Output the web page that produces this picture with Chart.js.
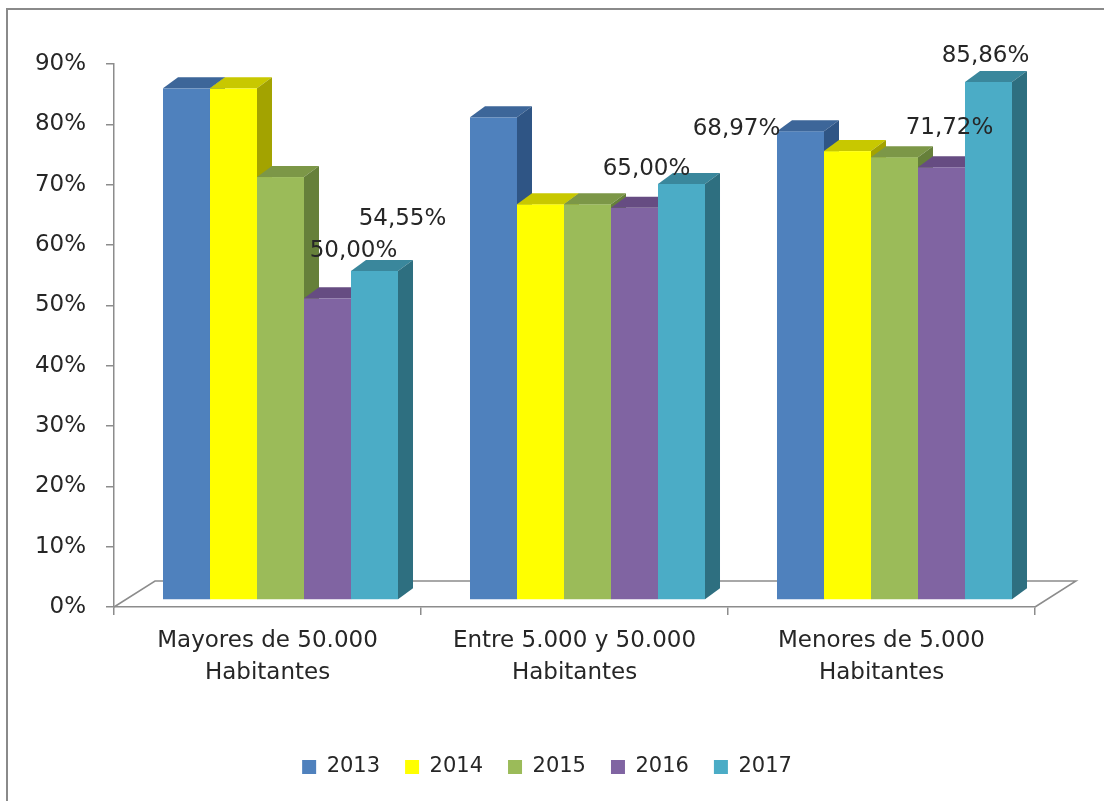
<!DOCTYPE html>
<html>
<head>
<meta charset="utf-8">
<script src="https://cdn.jsdelivr.net/npm/chart.js@4"></script>
<style>
  html, body { margin: 0; padding: 0; background: #fff; }
  #chart { display: block; }
</style>
</head>
<body>
<canvas id="chart" width="1104" height="801"></canvas>
<script>
// Data (percent)
const categories = [
  ['Mayores de 50.000', 'Habitantes'],
  ['Entre 5.000 y 50.000', 'Habitantes'],
  ['Menores de 5.000', 'Habitantes']
];
const years = ['2013', '2014', '2015', '2016', '2017'];
const values2013 = [84.8, 80.0, 77.7];
const values2014 = [84.8, 65.6, 74.4];
const values2015 = [70.1, 65.6, 73.4];
const values2016 = [50.00, 65.00, 71.72];
const values2017 = [54.55, 68.97, 85.86];
const yTicks = [0, 10, 20, 30, 40, 50, 60, 70, 80, 90];
// only these series carry value labels in the original
const labelledYears = ['2016', '2017'];

// Excel-like 3D face colours: front / top / side
const faceColors = {
  '2013': ['#4F81BD', '#3D6699', '#2F5585'],
  '2014': ['#FFFF00', '#C8C800', '#A3A300'],
  '2015': ['#9BBB59', '#7C9747', '#66803A'],
  '2016': ['#8064A2', '#664C82', '#54406C'],
  '2017': ['#4BACC6', '#3A879C', '#2E6F80']
};

const axisGrey = '#8c8c8c';
const textColor = '#262626';
const fontFamily = '"DejaVu Sans", Verdana, sans-serif';

const series = [values2013, values2014, values2015, values2016, values2017];

const fmtPct = v => v.toFixed(2).replace('.', ',') + '%';

// Draws the floor, the 3D columns, value labels and the frame lines
const bars3d = {
  id: 'bars3d',
  beforeDatasetsDraw(chart, args, opts) {
    const ctx = chart.ctx;
    const { left, right, bottom } = chart.chartArea;

    ctx.save();
    // floor outline (front edge is the x axis line)
    ctx.strokeStyle = axisGrey;
    ctx.lineWidth = 1.5;
    ctx.beginPath();
    ctx.moveTo(left, bottom);
    ctx.lineTo(left + opts.floorDx, bottom + opts.floorDy);
    ctx.lineTo(right + opts.floorDx, bottom + opts.floorDy);
    ctx.lineTo(right, bottom);
    ctx.stroke();

    // columns: category by category, left to right, so faces overlap correctly
    for (let i = 0; i < categories.length; i++) {
      chart.data.datasets.forEach((ds, d) => {
        if (!chart.isDatasetVisible(d)) return;
        const bar = chart.getDatasetMeta(d).data[i];
        const [front, top, side] = faceColors[ds.label];
        const x0 = bar.x - bar.width / 2 + opts.shiftX;
        const x1 = bar.x + bar.width / 2 + opts.shiftX;
        const yt = bar.y + opts.shiftY;
        const yb = bar.base + opts.shiftY;
        const dx = opts.depthX, dy = opts.depthY;

        ctx.fillStyle = front;
        ctx.fillRect(x0, yt, x1 - x0, yb - yt);

        ctx.fillStyle = top;
        ctx.beginPath();
        ctx.moveTo(x0, yt);
        ctx.lineTo(x1, yt);
        ctx.lineTo(x1 + dx, yt + dy);
        ctx.lineTo(x0 + dx, yt + dy);
        ctx.closePath();
        ctx.fill();

        ctx.fillStyle = side;
        ctx.beginPath();
        ctx.moveTo(x1, yt);
        ctx.lineTo(x1 + dx, yt + dy);
        ctx.lineTo(x1 + dx, yb + dy);
        ctx.lineTo(x1, yb);
        ctx.closePath();
        ctx.fill();
      });
    }
    ctx.restore();
    return false;
  },
  afterDraw(chart, args, opts) {
    const ctx = chart.ctx;
    ctx.save();
    // value labels (placed like the dragged Excel labels)
    ctx.font = '23px ' + fontFamily;
    ctx.fillStyle = textColor;
    ctx.textAlign = 'center';
    ctx.textBaseline = 'middle';
    chart.data.datasets.forEach((ds, d) => {
      if (!labelledYears.includes(ds.label)) return;
      const nudge = opts.labelNudge[ds.label];
      chart.getDatasetMeta(d).data.forEach((bar, i) => {
        const x = bar.x + opts.shiftX + nudge[i][0];
        const y = bar.y + opts.shiftY + nudge[i][1];
        ctx.fillText(fmtPct(ds.data[i]), x, y);
      });
    });

    // frame (only top and left edges are inside the picture)
    ctx.strokeStyle = '#8a8a8a';
    ctx.lineWidth = 2;
    ctx.beginPath();
    ctx.moveTo(7, chart.height);
    ctx.lineTo(7, 9);
    ctx.lineTo(chart.width, 9);
    ctx.stroke();
    ctx.restore();
  }
};

const chart = new Chart(document.getElementById('chart'), {
  type: 'bar',
  data: {
    labels: categories,
    datasets: years.map((year, k) => ({
      label: year,
      data: series[k],
      backgroundColor: faceColors[year][0],
      borderWidth: 0
    }))
  },
  plugins: [bars3d],
  options: {
    responsive: false,
    animation: false,
    events: [],
    categoryPercentage: 0.7655,
    barPercentage: 1,
    layout: {
      padding: { left: 7, right: 17, top: 64, bottom: 13.5 }
    },
    plugins: {
      tooltip: { enabled: false },
      legend: {
        position: 'bottom',
        labels: {
          boxWidth: 14,
          boxHeight: 14,
          padding: 25,
          color: textColor,
          font: { family: fontFamily, size: 21 }
        }
      },
      bars3d: {
        shiftX: 13,
        shiftY: -7,
        depthX: 15,
        depthY: -11,
        floorDx: 41,
        floorDy: -26,
        labelNudge: {
          '2016': [[26, -47], [12, -39], [8, -39]],
          '2017': [[28, -52], [55, -55], [-3, -26]]
        }
      }
    },
    scales: {
      x: {
        afterFit(scale) { scale.height = 124.5; },
        grid: {
          offset: true,
          drawOnChartArea: false,
          tickLength: 8,
          color: axisGrey,
          lineWidth: 1.5
        },
        border: { display: true, color: axisGrey, width: 1.5 },
        ticks: {
          padding: 11,
          color: textColor,
          maxRotation: 0,
          font: { family: fontFamily, size: 23, lineHeight: 1.35 }
        }
      },
      y: {
        min: 0,
        max: 90,
        afterFit(scale) { scale.width = 107; },
        afterBuildTicks(scale) { scale.ticks = yTicks.map(v => ({ value: v })); },
        grid: {
          drawOnChartArea: false,
          tickLength: 8,
          color: axisGrey,
          lineWidth: 1.5
        },
        border: { display: true, color: axisGrey, width: 1.5 },
        ticks: {
          padding: 20,
          color: textColor,
          font: { family: fontFamily, size: 23 },
          callback: v => v + '%'
        }
      },
      // empty right-hand space so the floor's back corner fits while the legend stays centred
      spacer: {
        type: 'linear',
        position: 'right',
        display: true,
        afterFit(scale) { scale.width = 52; },
        grid: { display: false },
        border: { display: false },
        ticks: { display: false }
      }
    }
  }
});
</script>
</body>
</html>
